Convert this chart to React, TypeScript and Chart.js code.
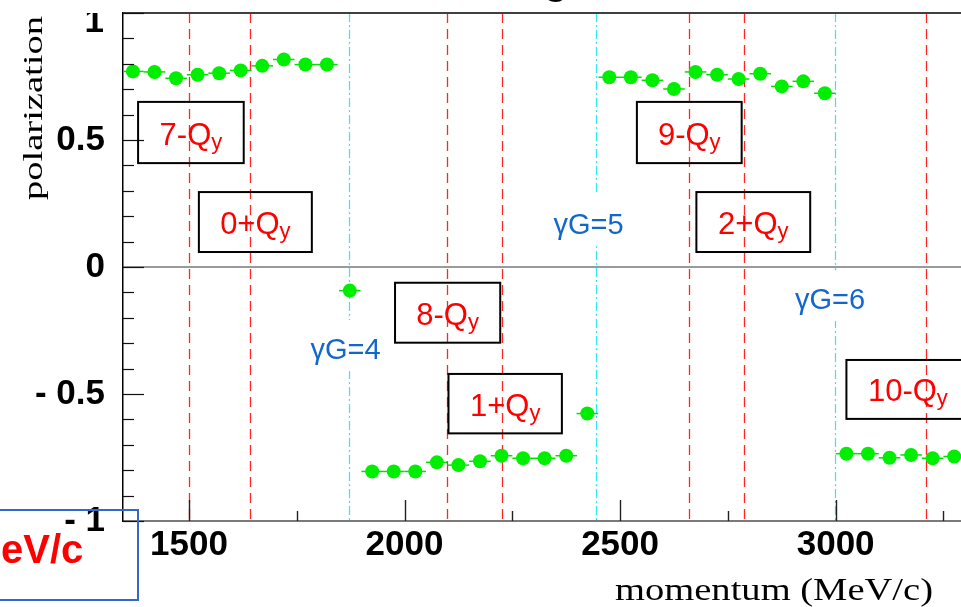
import React, { useEffect, useRef } from 'react';
import { Chart, registerables } from 'chart.js';

Chart.register(...registerables);

// ---- axes ----
const X_MIN = 1347;
const X_MAX = 3365;
const Y_MIN = -1;
const Y_MAX = 1;

const X_MAJOR_TICKS = [1500, 2000, 2500, 3000];
const X_TICK_LABELS = ['1500', '2000', '2500', '3000'];
const X_MINOR_TICKS = [1750, 2250, 2750, 3250];
const Y_MAJOR_TICKS = [-1, -0.5, 0, 0.5, 1];
const Y_TICK_LABELS = ['- 1', '- 0.5', '0', '0.5', '1'];
const Y_MINOR_TICKS = [-0.9, -0.8, -0.7, -0.6, -0.4, -0.3, -0.2, -0.1, 0.1, 0.2, 0.3, 0.4, 0.6, 0.7, 0.8, 0.9];

const X_TITLE = 'momentum (MeV/c)';
const Y_TITLE = 'polarization';

// ---- data: momentum (MeV/c) and polarization ----
const GROUP1_P = [1370, 1420, 1470, 1520, 1570, 1620, 1670, 1720, 1770, 1820];
const GROUP1_POL = [0.770, 0.768, 0.743, 0.757, 0.763, 0.774, 0.792, 0.817, 0.797, 0.797];
const SINGLE1_P = [1873];
const SINGLE1_POL = [-0.093];
const GROUP2_P = [1925, 1975, 2025, 2075, 2125, 2175, 2225, 2275, 2325, 2375];
const GROUP2_POL = [-0.805, -0.805, -0.805, -0.769, -0.780, -0.765, -0.743, -0.753, -0.753, -0.743];
const SINGLE2_P = [2424];
const SINGLE2_POL = [-0.577];
const GROUP3_P = [2475, 2525, 2575, 2625, 2675, 2725, 2775, 2825, 2875, 2925, 2975];
const GROUP3_POL = [0.747, 0.747, 0.735, 0.701, 0.768, 0.757, 0.740, 0.761, 0.711, 0.731, 0.684];
const GROUP4_P = [3025, 3075, 3125, 3175, 3225, 3275];
const GROUP4_POL = [-0.735, -0.735, -0.751, -0.740, -0.753, -0.746];
const P_ERROR = 25;

// ---- resonance lines ----
const RESONANCE_P = [1500, 1641, 2098, 2225, 2659, 2788, 3210];
const GAMMA_G_P = [1871, 2444, 2998];

// ---- labelled boxes (data coordinates) ----
const BOX_TEXT = ['7-Q', '0+Q', '8-Q', '1+Q', '9-Q', '2+Q', '10-Q'];
const BOX_SUB = ['y', 'y', 'y', 'y', 'y', 'y', 'y'];
const BOX_P_LOW = [1382, 1523, 1978, 2102, 2539, 2677, 3025];
const BOX_P_HIGH = [1627, 1785, 2222, 2365, 2782, 2941, 3310];
const BOX_POL_TOP = [0.650, 0.295, -0.062, -0.421, 0.650, 0.295, -0.366];
const BOX_POL_BOTTOM = [0.409, 0.059, -0.298, -0.655, 0.409, 0.059, -0.598];

const GG_TEXT = ['\u03b3G=4', '\u03b3G=5', '\u03b3G=6'];
const GG_P = [1863, 2427, 2987];
const GG_POL = [-0.331, 0.161, -0.134];

const SLIDE_TEXT = 'eV/c';
const TITLE_FRAGMENT = 'g';

const SANS = '"Liberation Sans", Arial, sans-serif';
const SERIF = '"Liberation Serif", "Times New Roman", serif';

function zip(ps: number[], vs: number[]) {
  return ps.map((p, i) => ({ x: p, y: vs[i] }));
}

const ALL_POINTS = [
  ...zip(GROUP1_P, GROUP1_POL),
  ...zip(SINGLE1_P, SINGLE1_POL),
  ...zip(GROUP2_P, GROUP2_POL),
  ...zip(SINGLE2_P, SINGLE2_POL),
  ...zip(GROUP3_P, GROUP3_POL),
  ...zip(GROUP4_P, GROUP4_POL),
];

function line(ctx: CanvasRenderingContext2D, x1: number, y1: number, x2: number, y2: number) {
  ctx.beginPath();
  ctx.moveTo(x1, y1);
  ctx.lineTo(x2, y2);
  ctx.stroke();
}

const decorPlugin = {
  id: 'decor',
  beforeDatasetsDraw(chart: any) {
    const { ctx, chartArea: a, scales } = chart;
    const x = scales.x;
    const y = scales.y;
    ctx.save();
    ctx.beginPath();
    ctx.rect(a.left, a.top, a.right - a.left, a.bottom - a.top);
    ctx.clip();

    // red dashed resonance lines
    ctx.strokeStyle = 'rgba(255,0,0,0.85)';
    ctx.lineWidth = 1.3;
    ctx.setLineDash([10, 6]);
    for (const p of RESONANCE_P) {
      const px = Math.round(x.getPixelForValue(p)) + 0.5;
      line(ctx, px, a.top, px, a.bottom);
    }
    // cyan dash-dot lines
    ctx.strokeStyle = '#30e8f0';
    ctx.lineWidth = 1.2;
    ctx.setLineDash([9, 3, 2, 3]);
    for (const p of GAMMA_G_P) {
      const px = Math.round(x.getPixelForValue(p)) + 0.5;
      line(ctx, px, a.top, px, a.bottom);
    }
    ctx.setLineDash([]);

    // gamma G labels with white background
    ctx.font = '29px ' + SANS;
    ctx.textAlign = 'center';
    ctx.textBaseline = 'middle';
    GG_TEXT.forEach((t, i) => {
      const cx = x.getPixelForValue(GG_P[i]);
      const cy = y.getPixelForValue(GG_POL[i]);
      const w = ctx.measureText(t).width;
      ctx.fillStyle = '#ffffff';
      ctx.fillRect(cx - w / 2 - 4, cy - 31, w + 8, 51);
      ctx.fillStyle = '#1167cc';
      ctx.fillText(t, cx, cy);
    });

    // horizontal error bars
    ctx.strokeStyle = '#00e000';
    ctx.lineWidth = 1.5;
    for (const pt of ALL_POINTS) {
      const py = y.getPixelForValue(pt.y);
      line(ctx, x.getPixelForValue(pt.x - P_ERROR), py, x.getPixelForValue(pt.x + P_ERROR), py);
    }
    ctx.restore();
  },
  afterDraw(chart: any) {
    const { ctx, chartArea: a, scales } = chart;
    const x = scales.x;
    const y = scales.y;
    ctx.save();

    // top frame line
    ctx.strokeStyle = '#404040';
    ctx.lineWidth = 2;
    line(ctx, a.left, a.top, chart.width, a.top);

    // tick marks (inside the frame)
    ctx.strokeStyle = '#111';
    ctx.lineWidth = 1.2;
    for (const v of Y_MAJOR_TICKS) {
      const py = Math.round(y.getPixelForValue(v)) + 0.5;
      line(ctx, a.left, py, a.left + 21, py);
    }
    for (const v of Y_MINOR_TICKS) {
      const py = Math.round(y.getPixelForValue(v)) + 0.5;
      line(ctx, a.left, py, a.left + 11, py);
    }
    ctx.strokeStyle = '#222';
    ctx.lineWidth = 1.4;
    for (const v of X_MAJOR_TICKS) {
      const px = Math.round(x.getPixelForValue(v)) + 0.5;
      line(ctx, px, a.bottom, px, a.bottom - 21);
    }
    for (const v of X_MINOR_TICKS) {
      const px = Math.round(x.getPixelForValue(v)) + 0.5;
      line(ctx, px, a.bottom, px, a.bottom - 10);
    }

    // top "1" label (clipped by the frame top)
    ctx.save();
    ctx.beginPath();
    ctx.rect(0, a.top, a.left, a.bottom - a.top);
    ctx.clip();
    ctx.font = 'bold 35px ' + SANS;
    ctx.fillStyle = '#000';
    ctx.textAlign = 'right';
    ctx.textBaseline = 'middle';
    ctx.fillText(Y_TICK_LABELS[Y_MAJOR_TICKS.indexOf(Y_MAX)], a.left - 19, y.getPixelForValue(Y_MAX) + 9);
    ctx.restore();

    // labelled boxes
    BOX_TEXT.forEach((t, i) => {
      const x1 = x.getPixelForValue(BOX_P_LOW[i]);
      const x2 = x.getPixelForValue(BOX_P_HIGH[i]);
      const y1 = y.getPixelForValue(BOX_POL_TOP[i]);
      const y2 = y.getPixelForValue(BOX_POL_BOTTOM[i]);
      ctx.strokeStyle = '#000';
      ctx.lineWidth = 2;
      ctx.strokeRect(x1, y1, x2 - x1, y2 - y1);
      ctx.font = '31px ' + SANS;
      const w1 = ctx.measureText(t).width;
      ctx.font = '22px ' + SANS;
      const w2 = ctx.measureText(BOX_SUB[i]).width;
      const cx = (x1 + x2) / 2;
      const cy = (y1 + y2) / 2;
      const sx = cx - (w1 + w2) / 2;
      const base = cy + 12;
      ctx.fillStyle = '#ff0000';
      ctx.textAlign = 'left';
      ctx.textBaseline = 'alphabetic';
      ctx.font = '31px ' + SANS;
      ctx.fillText(t, sx, base);
      ctx.font = '22px ' + SANS;
      ctx.fillText(BOX_SUB[i], sx + w1, base + 4);
    });

    // axis titles
    ctx.fillStyle = '#000';
    ctx.textBaseline = 'alphabetic';
    ctx.font = '31px ' + SERIF;
    {
      const w = ctx.measureText(X_TITLE).width;
      const target = 318;
      ctx.save();
      ctx.translate(933, 600);
      ctx.scale(target / w, 1);
      ctx.textAlign = 'right';
      ctx.fillText(X_TITLE, 0, 0);
      ctx.restore();
    }
    ctx.font = '28px ' + SERIF;
    {
      const w = ctx.measureText(Y_TITLE).width;
      const target = 184;
      ctx.save();
      ctx.translate(42, 108);
      ctx.rotate(-Math.PI / 2);
      ctx.scale(target / w, 1);
      ctx.textAlign = 'center';
      ctx.fillText(Y_TITLE, 0, 0);
      ctx.restore();
    }

    // title fragment at the very top
    ctx.font = 'bold 40px ' + SANS;
    ctx.textAlign = 'center';
    ctx.fillText(TITLE_FRAGMENT, 556, -6);

    // slide overlay (bottom-left)
    ctx.font = 'bold 40px ' + SANS;
    ctx.fillStyle = '#ff0000';
    ctx.textAlign = 'left';
    ctx.fillText(SLIDE_TEXT, 1, 563);
    ctx.strokeStyle = '#3468cc';
    ctx.lineWidth = 2;
    ctx.strokeRect(-5, 510, 143, 90);

    ctx.restore();
  },
};

export default function App() {
  const ref = useRef<HTMLCanvasElement>(null);
  useEffect(() => {
    const canvas = ref.current!;
    const chart = new Chart(canvas, {
      type: 'scatter',
      data: {
        datasets: [
          {
            data: ALL_POINTS,
            pointRadius: 7,
            pointHoverRadius: 7,
            pointBackgroundColor: '#00ee00',
            pointBorderWidth: 0,
            showLine: false,
          },
        ],
      },
      options: {
        animation: false,
        responsive: false,
        devicePixelRatio: 1,
        events: [],
        layout: { padding: { top: 13, right: 5, left: 0, bottom: 0 } },
        plugins: {
          legend: { display: false },
          tooltip: { enabled: false },
          title: { display: false },
        },
        scales: {
          x: {
            type: 'linear',
            position: 'bottom',
            min: X_MIN,
            max: X_MAX,
            afterBuildTicks: (s: any) => {
              s.ticks = X_MAJOR_TICKS.map((v) => ({ value: v }));
            },
            afterFit: (s: any) => {
              s.height = 86;
              s.paddingLeft = 0;
              s.paddingRight = 0;
            },
            grid: { display: false, drawTicks: false },
            border: { display: true, color: '#7a7a7a', width: 2 },
            ticks: {
              autoSkip: false,
              maxRotation: 0,
              padding: 3,
              color: '#000',
              font: { family: SANS, size: 35, weight: 'bold' },
              callback: (v: any) => {
                const i = X_MAJOR_TICKS.indexOf(Number(v));
                return i >= 0 ? X_TICK_LABELS[i] : '';
              },
            },
          },
          y: {
            type: 'linear',
            min: Y_MIN,
            max: Y_MAX,
            afterBuildTicks: (s: any) => {
              s.ticks = Y_MAJOR_TICKS.map((v) => ({ value: v }));
            },
            afterFit: (s: any) => {
              s.width = 123;
              s.paddingTop = 0;
              s.paddingBottom = 0;
            },
            grid: {
              display: true,
              drawTicks: false,
              lineWidth: 2,
              color: (c: any) => (c.tick && c.tick.value === 0 ? '#9a9a9a' : 'rgba(0,0,0,0)'),
            },
            border: { display: true, color: '#000', width: 1.5 },
            ticks: {
              autoSkip: false,
              padding: 18,
              color: '#000',
              font: { family: SANS, size: 35, weight: 'bold' },
              callback: (v: any) => {
                const n = Number(v);
                if (n === Y_MAX) return '';
                const i = Y_MAJOR_TICKS.indexOf(n);
                return i >= 0 ? Y_TICK_LABELS[i] : '';
              },
            },
          },
        },
      },
      plugins: [decorPlugin],
    } as any);
    return () => chart.destroy();
  }, []);

  return (
    <div
      style={{
        position: 'fixed',
        left: 0,
        top: 0,
        width: 961,
        height: 607,
        overflow: 'hidden',
        background: '#fff',
      }}
    >
      <canvas ref={ref} width={1000} height={607} style={{ display: 'block' }} />
    </div>
  );
}
